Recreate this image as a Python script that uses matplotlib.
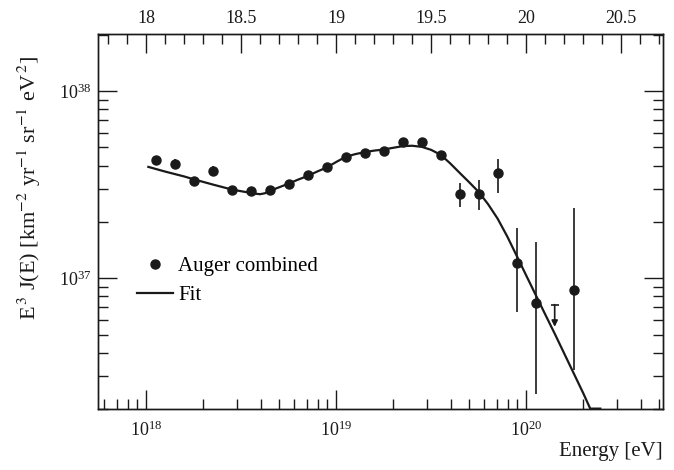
import numpy as np
import matplotlib
matplotlib.use("Agg")
import matplotlib.pyplot as plt
from matplotlib.lines import Line2D
from matplotlib.ticker import LogLocator, MultipleLocator, FixedLocator, NullFormatter

plt.rcParams["font.family"] = ["Liberation Serif", "DejaVu Serif"]
plt.rcParams["mathtext.fontset"] = "stix"

# Auger combined spectrum, lg(E/eV) bin centres and lg(E^3 J)
lg_e = [18.05, 18.15, 18.25, 18.35, 18.45, 18.55, 18.65, 18.75, 18.85, 18.95,
        19.05, 19.15, 19.25, 19.35, 19.45, 19.55, 19.65, 19.75, 19.85, 19.95,
        20.05, 20.25]
lg_flux = [37.631, 37.613, 37.520, 37.572, 37.474, 37.465, 37.471, 37.506, 37.551, 37.592,
           37.649, 37.670, 37.679, 37.729, 37.726, 37.659, 37.451, 37.451, 37.560, 37.082,
           36.868, 36.936]
lg_hi = [37.655, 37.637, 37.540, 37.598, 37.486, 37.475, 37.479, 37.513, 37.557, 37.597,
         37.654, 37.675, 37.684, 37.735, 37.733, 37.672, 37.510, 37.524, 37.636, 37.271,
         37.193, 37.373]
lg_lo = [37.607, 37.590, 37.500, 37.548, 37.462, 37.455, 37.463, 37.499, 37.545, 37.587,
         37.644, 37.665, 37.674, 37.723, 37.719, 37.646, 37.378, 37.364, 37.456, 36.820,
         36.380, 36.508]

# upper limit at lgE = 20.15
ul_lg_e = 20.15
ul_top = 36.859
ul_head = 36.740

# fit curve
fit_lg_e = [18.012, 18.10, 18.20, 18.253, 18.35, 18.451, 18.50, 18.551, 18.575, 18.600,
            18.625, 18.651, 18.70, 18.751, 18.80, 18.851, 18.90, 18.951, 19.00, 19.051,
            19.10, 19.151, 19.20, 19.251, 19.30, 19.351, 19.40, 19.451, 19.50, 19.551,
            19.60, 19.653, 19.70, 19.75, 19.80, 19.85, 19.90, 19.95, 20.00, 20.05,
            20.10, 20.15, 20.20, 20.25, 20.30, 20.337, 20.39]
fit_lg_flux = [37.595, 37.570, 37.544, 37.528, 37.501, 37.474, 37.465, 37.456, 37.452, 37.449,
               37.454, 37.467, 37.486, 37.506, 37.527, 37.547, 37.570, 37.592, 37.621, 37.649,
               37.663, 37.674, 37.682, 37.688, 37.697, 37.706, 37.708, 37.702, 37.686, 37.659,
               37.614, 37.560, 37.513, 37.461, 37.395, 37.318, 37.224, 37.120, 37.015, 36.911,
               36.807, 36.704, 36.598, 36.492, 36.386, 36.303, 36.303]

top_ticks = [18, 18.5, 19, 19.5, 20, 20.5]
xlim_lg = (17.747, 20.72)
ylim = (2.0e36, 2.02e38)

ink = "#1a1a1a"

fig = plt.figure(figsize=(6.74, 4.70), dpi=100)
ax = fig.add_axes([0.1454, 0.1298, 0.8383, 0.7979])

e = 10 ** np.array(lg_e)
f = 10 ** np.array(lg_flux)
yerr = [f - 10 ** np.array(lg_lo), 10 ** np.array(lg_hi) - f]
ax.errorbar(e, f, yerr=yerr, fmt="o", color=ink, ms=6.5, elinewidth=1.2,
            capsize=0, zorder=3)

ax.plot(10 ** np.array(fit_lg_e), 10 ** np.array(fit_lg_flux), color=ink, lw=1.6, zorder=2)

# upper limit arrow
ax.annotate("", xy=(10 ** ul_lg_e, 10 ** ul_head), xytext=(10 ** ul_lg_e, 10 ** ul_top),
            arrowprops=dict(arrowstyle="-|>", color=ink, lw=1.2, mutation_scale=9,
                            shrinkA=0, shrinkB=0))
ax.plot([10 ** ul_lg_e], [10 ** ul_top], marker="_", ms=6, mew=1.2, color=ink)

ax.set_xscale("log")
ax.set_yscale("log")
ax.set_xlim(10 ** xlim_lg[0], 10 ** xlim_lg[1])
ax.set_ylim(*ylim)

ax.xaxis.set_major_locator(LogLocator(base=10, numticks=10))
ax.xaxis.set_minor_locator(LogLocator(base=10, subs=np.arange(2, 10), numticks=10))
ax.yaxis.set_major_locator(LogLocator(base=10, numticks=10))
ax.yaxis.set_minor_locator(LogLocator(base=10, subs=np.arange(2, 10), numticks=10))
ax.xaxis.set_minor_formatter(NullFormatter())
ax.yaxis.set_minor_formatter(NullFormatter())

ax.tick_params(which="both", direction="in", colors=ink, labelsize=13, width=1.0,
               top=False, right=True, bottom=True, left=True)
ax.tick_params(which="major", length=14)
ax.tick_params(which="minor", length=7)
ax.tick_params(axis="y", which="major", pad=4.5)
ax.tick_params(axis="x", which="major", pad=8)
for s in ax.spines.values():
    s.set_color(ink)
    s.set_linewidth(1.0)

ax.set_xlabel("Energy [eV]", fontsize=15, color=ink, loc="right", labelpad=2)
ax.set_ylabel(r"E$^{\,3}$ J(E) [km$^{-2}$ yr$^{-1}$ sr$^{-1}$ eV$^{\,2}$]",
              fontsize=16, color=ink)
ax.yaxis.set_label_coords(-0.098, 0.59)

# top axis in lg(E)
top = ax.twiny()
top.set_xlim(*xlim_lg)
top.xaxis.set_major_locator(FixedLocator(top_ticks))
top.xaxis.set_minor_locator(MultipleLocator(0.1))
top.tick_params(which="both", direction="in", colors=ink, labelsize=13, width=1.0)
top.tick_params(which="major", length=14, pad=5)
top.tick_params(which="minor", length=7)
top.set_xticklabels([f"{t:g}" for t in top_ticks])
for s in top.spines.values():
    s.set_color(ink)
    s.set_linewidth(1.0)

handles = [Line2D([], [], ls="none", marker="o", ms=6.5, color=ink),
           Line2D([], [], color=ink, lw=1.6)]
ax.legend(handles, ["Auger combined", "Fit"], loc="upper left",
          bbox_to_anchor=(0.055, 0.428), frameon=False, fontsize=15,
          handlelength=1.7, handletextpad=0.25, labelspacing=0.45, borderaxespad=0)

fig.savefig("out.png", dpi=100)
